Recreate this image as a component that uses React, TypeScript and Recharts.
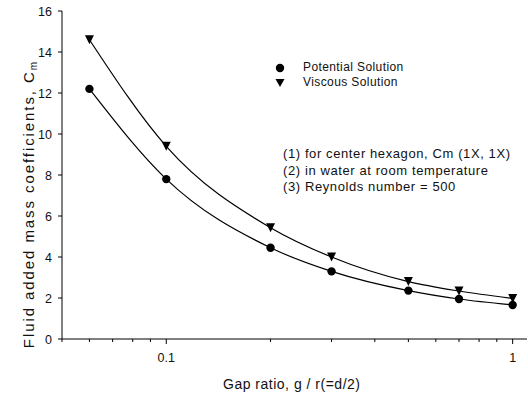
import React from 'react';
import { ComposedChart, Line, XAxis, YAxis, Legend } from 'recharts';

const gapRatio = [0.06, 0.1, 0.2, 0.3, 0.5, 0.7, 1.0];
const potential = [12.2, 7.8, 4.45, 3.3, 2.36, 1.95, 1.66];
const viscous = [14.6, 9.4, 5.43, 4.0, 2.8, 2.34, 1.98];

const xTicks = [0.05, 0.06, 0.07, 0.08, 0.09, 0.1, 0.2, 0.3, 0.4, 0.5, 0.6, 0.7, 0.8, 0.9, 1];
const xLabels = [0.1, 1];
const yTicks = [0, 2, 4, 6, 8, 10, 12, 14, 16];
const notes = [
    '(1) for center hexagon, Cm (1X, 1X)',
    '(2) in water at room temperature',
    '(3) Reynolds number = 500',
];

const data = gapRatio.map((g, i) => ({ g, potential: potential[i], viscous: viscous[i] }));

const FONT = '"Liberation Sans", Arial, sans-serif';

const Circle = (props: any) => {
    const { cx, cy } = props;
    if (cx == null || cy == null) return null;
    return <circle cx={cx} cy={cy} r={4.2} fill="#000" />;
};

const Triangle = (props: any) => {
    const { cx, cy } = props;
    if (cx == null || cy == null) return null;
    const s = 4.5;
    return <path d={`M${cx - s},${cy - s} L${cx + s},${cy - s} L${cx},${cy + s} Z`} fill="#000" />;
};

const XTick = (props: any) => {
    const { x, y, payload } = props;
    const major = xLabels.includes(payload.value);
    return (
        <g>
            <line x1={x} y1={y} x2={x} y2={y + (major ? 5 : 3)} stroke="#000" strokeWidth={1} />
            {major && (
                <text x={x} y={y + 23} textAnchor="middle" fontSize={12.5} fontFamily={FONT} fill="#111">
                    {payload.value}
                </text>
            )}
        </g>
    );
};

const YTick = (props: any) => {
    const { x, y, payload } = props;
    return (
        <g>
            <line x1={x - 4} y1={y} x2={x} y2={y} stroke="#000" strokeWidth={1} />
            <text x={x - 10} y={y + 4.5} textAnchor="end" fontSize={12.5} fontFamily={FONT} fill="#111">
                {payload.value}
            </text>
        </g>
    );
};

const RightTick = (props: any) => {
    const { x, y } = props;
    return <line x1={x - 3} y1={y} x2={x} y2={y} stroke="#000" strokeWidth={1} />;
};

const LegendBox = () => (
    <div style={{ fontFamily: FONT, fontSize: 12, letterSpacing: 0.4, color: '#111', lineHeight: '15px' }}>
        <div style={{ display: 'flex', alignItems: 'center' }}>
            <svg width={28} height={12}>
                <circle cx={5} cy={6} r={4.2} fill="#000" />
            </svg>
            <span>Potential Solution</span>
        </div>
        <div style={{ display: 'flex', alignItems: 'center' }}>
            <svg width={28} height={12}>
                <path d="M0.5,2 L9.5,2 L5,10 Z" fill="#000" />
            </svg>
            <span>Viscous Solution</span>
        </div>
    </div>
);

export default function App() {
    return (
        <div style={{ position: 'absolute', left: 0, top: 0, width: 528, height: 397, background: '#fff' }}>
            <ComposedChart
                width={528}
                height={397}
                data={data}
                margin={{ top: 11, right: 1, left: 0, bottom: 0 }}
            >
                <XAxis
                    dataKey="g"
                    type="number"
                    scale="log"
                    domain={[0.05, 1.1]}
                    allowDataOverflow
                    ticks={xTicks}
                    interval={0}
                    tick={<XTick />}
                    tickLine={false}
                    tickSize={0}
                    tickMargin={0}
                    height={58}
                    axisLine={{ stroke: '#000', strokeWidth: 1 }}
                    label={{
                        content: (p: any) => {
                            const vb = p.viewBox;
                            return (
                                <text
                                    x={vb.x + vb.width / 2 - 3}
                                    y={389}
                                    textAnchor="middle"
                                    fontSize={14}
                                    fontFamily={FONT}
                                    fill="#111"
                                    textLength={137}
                                    lengthAdjust="spacing"
                                >
                                    Gap ratio, g / r(=d/2)
                                </text>
                            );
                        },
                    }}
                />
                <XAxis
                    xAxisId="top"
                    dataKey="g"
                    type="number"
                    scale="log"
                    domain={[0.05, 1.1]}
                    allowDataOverflow
                    orientation="top"
                    height={0}
                    tick={false}
                    tickLine={false}
                    axisLine={{ stroke: '#000', strokeWidth: 1 }}
                />
                <YAxis
                    type="number"
                    domain={[0, 16]}
                    ticks={yTicks}
                    interval={0}
                    width={62}
                    tick={<YTick />}
                    tickLine={false}
                    tickSize={0}
                    tickMargin={0}
                    axisLine={{ stroke: '#000', strokeWidth: 1 }}
                    label={{
                        content: () => {
                            const cx = 34;
                            const cy = 205;
                            return (
                                <text
                                    x={cx}
                                    y={cy}
                                    transform={`rotate(-90 ${cx} ${cy})`}
                                    textAnchor="middle"
                                    fontSize={15}
                                    fontFamily={FONT}
                                    fill="#111"
                                >
                                    <tspan textLength={276} lengthAdjust="spacing">Fluid added mass coefficients, C</tspan>
                                    <tspan fontSize={10} dy={3}>m</tspan>
                                </text>
                            );
                        },
                    }}
                />
                <YAxis
                    yAxisId="right"
                    orientation="right"
                    type="number"
                    domain={[0, 16]}
                    ticks={yTicks}
                    width={0}
                    tick={<RightTick />}
                    tickLine={false}
                    tickSize={0}
                    tickMargin={0}
                    axisLine={{ stroke: '#000', strokeWidth: 1 }}
                />
                <Legend
                    layout="horizontal"
                    verticalAlign="middle"
                    align="center"
                    wrapperStyle={{ top: 60, left: 275, width: 180 }}
                    content={<LegendBox />}
                />
                <Line
                    type="monotone"
                    dataKey="potential"
                    stroke="#000"
                    strokeWidth={1.2}
                    dot={<Circle />}
                    activeDot={false}
                    isAnimationActive={false}
                />
                <Line
                    type="monotone"
                    dataKey="viscous"
                    stroke="#000"
                    strokeWidth={1.2}
                    dot={<Triangle />}
                    activeDot={false}
                    isAnimationActive={false}
                />
            </ComposedChart>
            <div
                style={{
                    position: 'absolute',
                    left: 283,
                    top: 146,
                    fontFamily: FONT,
                    fontSize: 13,
                    letterSpacing: 0.6,
                    lineHeight: '16.5px',
                    color: '#111',
                    whiteSpace: 'nowrap',
                }}
            >
                {notes.map(n => (
                    <div key={n}>{n}</div>
                ))}
            </div>
        </div>
    );
}
